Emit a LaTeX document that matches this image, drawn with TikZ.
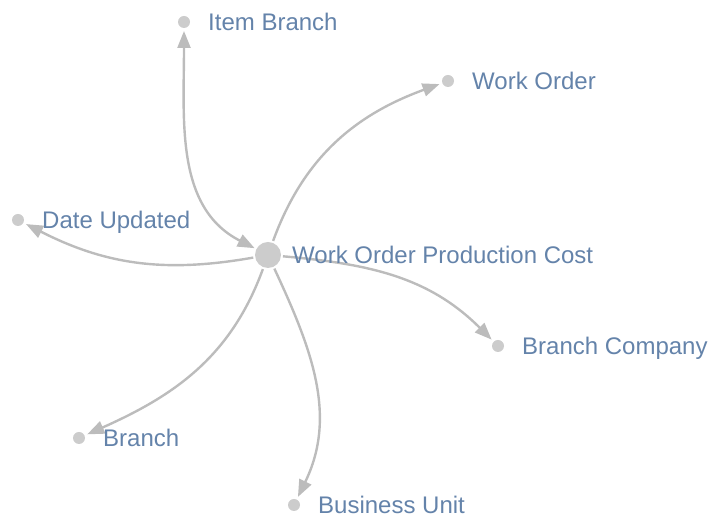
\documentclass[tikz,border=0pt]{standalone}
\usepackage{fontspec}
\setmainfont{Liberation Sans}
\usetikzlibrary{positioning,arrows.meta}
\definecolor{dotgray}{RGB}{204,204,204}
\definecolor{edgegray}{RGB}{188,188,188}
\definecolor{txtblue}{RGB}{100,131,170}
\tikzset{
  leaf/.style={circle,fill=dotgray,minimum size=12pt,inner sep=0pt,outer sep=3pt},
  hub/.style={circle,fill=dotgray,minimum size=26pt,inner sep=0pt,outer sep=2pt},
  lbl/.style={inner sep=0pt,text height=17pt,text depth=0pt,text=txtblue,
    font=\fontsize{24}{28}\selectfont},
  tip/.tip={Triangle[length=17pt,width=13pt]},
  link/.style={draw=edgegray,line width=2.4pt,-tip}
}
\begin{document}
\begin{tikzpicture}[x=1pt,y=1pt]
  \useasboundingbox (0,0) rectangle (716,518);

  \node[hub] (wopc) at (268,263) {};
  \node[leaf] (ib) at (184,496) {};
  \node[leaf] (wo) at (448,437) {};
  \node[leaf] (du) at (18,298) {};
  \node[leaf] (bc) at (498,172) {};
  \node[leaf] (br) at (79,80) {};
  \node[leaf] (bu) at (294,13) {};

  % edges
  \draw[link,tip-tip] (wopc) to[out=153,in=-90] (ib);
  \draw[link] (wopc) to[out=70,in=200] (wo);
  \draw[link] (wopc) to[out=190,in=-27] (du);
  \draw[link] (wopc) to[out=-5,in=135] (bc);
  \draw[link] (wopc) to[out=-110,in=24] (br);
  \draw[link] (wopc) to[out=-65,in=64] (bu);

  % labels
  \node[lbl,right=9pt of wopc] (wopcl) {Work Order Production Cost};
  \node[lbl,right=15pt of ib] (ibl) {Item Branch};
  \node[lbl,right=15pt of wo] (wol) {Work Order};
  \node[lbl,right=15pt of du] (dul) {Date Updated};
  \node[lbl,right=15pt of bc] (bcl) {Branch Company};
  \node[lbl,right=15pt of br] (brl) {Branch};
  \node[lbl,right=15pt of bu] (bul) {Business Unit};
\end{tikzpicture}
\end{document}
